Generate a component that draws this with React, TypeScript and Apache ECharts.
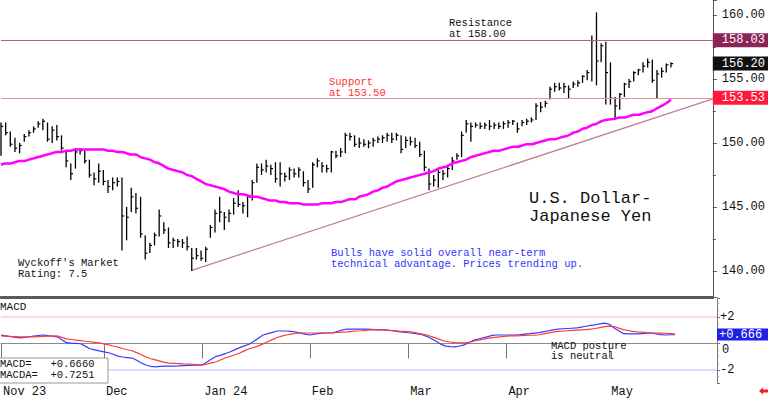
import React, { useEffect, useRef } from 'react';
import * as echarts from 'echarts';

const MONO = '"Liberation Mono", "DejaVu Sans Mono", monospace';

// ---- axis / tick labels ----
const monthLabels = ['Nov 23', 'Dec', 'Jan 24', 'Feb', 'Mar', 'Apr', 'May'];
const monthStartIndex = [0, 22, 43, 66, 87, 108, 130];
const totalSlots = 154; // trading-day slots shown on the axis (incl. empty space to the right)

// ---- daily price bars (USD/JPY) ----
const highs = [
  151.6, 151.6, 150.9, 150.4, 150.0, 150.7, 151.0, 151.3, 151.7, 151.9,
  151.6, 151.3, 151.4, 150.6, 149.4, 148.4, 149.6, 149.6, 149.4, 148.7,
  147.7, 148.4, 147.9, 147.1, 147.3, 147.3, 147.3, 145.0, 146.5, 146.1,
  145.8, 142.8, 142.2, 143.0, 144.8, 143.8, 143.4, 142.6, 142.5, 142.5,
  142.7, 141.8, 141.8, 141.6, 141.9, 143.6, 144.8, 145.8, 144.6, 144.8,
  145.7, 146.3, 145.4, 145.9, 147.1, 148.4, 148.4, 148.7, 148.3, 148.5,
  148.5, 147.7, 148.1, 148.0, 148.1, 147.8, 147.1, 148.5, 148.8, 148.5,
  148.3, 149.4, 149.4, 149.6, 150.8, 150.8, 150.6, 150.4, 150.3, 150.2,
  150.4, 150.5, 150.6, 150.8, 150.8, 150.8, 150.6, 150.5, 150.5, 150.4,
  150.1, 149.4, 148.0, 147.5, 147.9, 147.9, 148.3, 148.9, 149.2, 150.9,
  151.8, 151.6, 151.6, 151.6, 151.6, 151.8, 151.6, 151.6, 151.7, 151.8,
  151.8, 151.6, 151.8, 151.9, 152.0, 153.1, 153.2, 153.3, 154.4, 154.7,
  154.7, 154.7, 154.5, 154.8, 154.9, 155.3, 155.7, 158.4, 160.2, 157.8,
  157.9, 156.3, 153.6, 153.9, 154.7, 155.0, 155.6, 155.8, 156.3, 156.6,
  156.5, 155.7, 155.9, 156.2, 156.3,
];
const lows = [
  149.0, 150.6, 149.7, 149.3, 149.2, 150.1, 150.5, 150.8, 151.2, 151.0,
  150.1, 150.0, 150.2, 149.4, 148.1, 147.1, 148.0, 149.1, 148.4, 147.3,
  146.7, 146.9, 146.7, 146.1, 146.3, 146.6, 141.6, 142.4, 144.6, 144.5,
  142.6, 140.9, 141.4, 142.0, 142.7, 142.9, 141.8, 141.8, 141.9, 141.8,
  141.6, 140.0, 140.9, 140.8, 140.7, 142.6, 143.0, 143.8, 143.2, 143.8,
  144.4, 145.0, 144.5, 144.2, 145.5, 146.9, 147.5, 147.7, 147.5, 146.9,
  146.6, 147.0, 147.1, 147.3, 147.3, 146.6, 146.1, 146.5, 148.1, 147.7,
  147.7, 147.7, 148.8, 148.9, 149.2, 150.2, 149.7, 149.6, 149.7, 149.6,
  149.7, 150.0, 150.0, 150.1, 150.0, 150.2, 149.2, 149.6, 149.8, 149.6,
  148.9, 147.8, 146.3, 146.6, 146.5, 147.1, 147.3, 147.9, 148.7, 148.9,
  150.8, 150.1, 151.2, 151.1, 151.1, 151.0, 151.1, 151.1, 151.1, 151.2,
  151.4, 150.8, 151.3, 151.4, 151.6, 151.8, 152.4, 152.8, 153.4, 154.0,
  154.1, 153.9, 153.5, 154.3, 154.4, 154.7, 154.9, 154.8, 154.5, 156.3,
  153.0, 153.0, 151.8, 152.6, 153.6, 154.3, 154.8, 155.3, 155.5, 155.9,
  154.7, 153.5, 155.1, 155.5, 155.9,
];
const closes = [
  151.3, 150.8, 149.9, 149.6, 149.8, 150.5, 150.8, 151.1, 151.5, 151.7,
  150.3, 151.0, 150.5, 149.6, 148.6, 147.6, 149.3, 149.4, 148.6, 147.5,
  147.2, 147.8, 147.0, 146.6, 146.9, 147.0, 144.3, 144.2, 145.8, 144.9,
  142.9, 141.4, 142.0, 142.8, 144.3, 143.2, 142.2, 142.4, 142.3, 142.2,
  141.9, 141.0, 141.2, 141.0, 141.7, 143.4, 144.5, 144.6, 144.2, 144.5,
  145.3, 145.2, 145.1, 145.8, 146.9, 148.1, 147.9, 148.2, 148.0, 147.2,
  147.6, 147.4, 147.9, 147.6, 147.9, 146.9, 146.4, 148.3, 148.6, 148.2,
  148.0, 149.3, 149.0, 149.3, 150.6, 150.5, 149.9, 150.0, 149.9, 150.0,
  150.2, 150.3, 150.4, 150.6, 150.3, 150.6, 149.5, 150.2, 150.1, 149.8,
  149.1, 148.1, 146.8, 147.1, 147.7, 147.6, 148.0, 148.6, 149.0, 150.6,
  151.5, 151.3, 151.4, 151.3, 151.4, 151.3, 151.4, 151.3, 151.5, 151.6,
  151.7, 151.1, 151.6, 151.7, 151.8, 152.9, 152.8, 153.1, 154.2, 154.4,
  154.3, 154.4, 154.2, 154.6, 154.7, 155.2, 155.5, 158.0, 156.4, 157.6,
  155.5, 153.5, 152.9, 153.8, 154.6, 154.8, 155.5, 155.7, 156.0, 156.3,
  154.9, 155.4, 155.6, 156.1, 156.2,
];
const movingAverage = [
  148.3, 148.4, 148.4, 148.5, 148.6, 148.6, 148.7, 148.8, 148.9, 149.0,
  149.1, 149.2, 149.3, 149.3, 149.4, 149.4, 149.5, 149.5, 149.5, 149.5,
  149.5, 149.5, 149.5, 149.4, 149.4, 149.3, 149.3, 149.2, 149.1, 149.1,
  148.9, 148.8, 148.7, 148.5, 148.4, 148.2, 148.0, 147.9, 147.8, 147.7,
  147.5, 147.4, 147.2, 147.0, 146.8, 146.7, 146.6, 146.5, 146.4, 146.2,
  146.1, 146.0, 146.0, 145.9, 145.8, 145.8, 145.7, 145.6, 145.5, 145.5,
  145.4, 145.4, 145.3, 145.3, 145.3, 145.2, 145.2, 145.2, 145.2, 145.3,
  145.3, 145.3, 145.4, 145.4, 145.5, 145.6, 145.6, 145.8, 145.9, 146.0,
  146.2, 146.3, 146.5, 146.6, 146.8, 147.0, 147.1, 147.2, 147.3, 147.4,
  147.5, 147.6, 147.7, 147.8, 148.0, 148.1, 148.2, 148.4, 148.5, 148.6,
  148.7, 148.9, 149.0, 149.1, 149.2, 149.3, 149.4, 149.4, 149.5, 149.6,
  149.7, 149.7, 149.8, 149.9, 149.9, 150.0, 150.1, 150.2, 150.3, 150.3,
  150.4, 150.5, 150.6, 150.8, 150.9, 151.1, 151.2, 151.4, 151.5, 151.7,
  151.8, 151.85, 151.9, 152.0, 152.0, 152.1, 152.2, 152.2, 152.3, 152.4,
  152.5, 152.7, 152.9, 153.1, 153.4,
];

// ---- MACD panel ----
const macdLine = [
  0.63, 0.58, 0.52, 0.47, 0.42, 0.46, 0.51, 0.56, 0.6, 0.64,
  0.59, 0.55, 0.5, 0.28, 0.06, 0.03, 0.01, -0.02, -0.2, -0.4,
  -0.48, -0.56, -0.63, -0.7, -0.81, -0.95, -1.02, -1.06, -1.1, -1.27,
  -1.48, -1.62, -1.72, -1.76, -1.72, -1.7, -1.7, -1.7, -1.69, -1.67,
  -1.66, -1.64, -1.63, -1.62, -1.4, -1.17, -0.97, -0.88, -0.76, -0.62,
  -0.46, -0.31, -0.18, -0.06, 0.15, 0.4, 0.64, 0.74, 0.84, 0.94,
  0.94, 0.94, 0.92, 0.85, 0.78, 0.71, 0.64, 0.7, 0.76, 0.79,
  0.79, 0.8, 0.92, 1.03, 1.09, 1.09, 1.09, 1.09, 1.08, 1.07,
  1.05, 1.03, 1.02, 0.98, 0.94, 0.9, 0.86, 0.81, 0.77, 0.72,
  0.66, 0.54, 0.36, 0.17, -0.05, -0.2, -0.23, -0.25, -0.19, -0.11,
  0.07, 0.25, 0.34, 0.43, 0.52, 0.61, 0.64, 0.64, 0.64, 0.64,
  0.64, 0.67, 0.71, 0.74, 0.78, 0.82, 0.89, 0.96, 1.03, 1.09,
  1.11, 1.13, 1.15, 1.17, 1.24, 1.3, 1.36, 1.41, 1.48, 1.54,
  1.45, 1.17, 0.96, 0.74, 0.72, 0.72, 0.72, 0.75, 0.77, 0.79,
  0.73, 0.67, 0.64, 0.66, 0.67,
];
const macdSignal = [
  0.57, 0.55, 0.53, 0.52, 0.5, 0.5, 0.5, 0.5, 0.52, 0.53,
  0.55, 0.56, 0.57, 0.46, 0.35, 0.3, 0.25, 0.21, 0.17, 0.13,
  0.09, 0.05, -0.03, -0.11, -0.19, -0.28, -0.38, -0.47, -0.55, -0.69,
  -0.85, -1.02, -1.15, -1.24, -1.33, -1.42, -1.48, -1.5, -1.52, -1.54,
  -1.55, -1.57, -1.59, -1.62, -1.55, -1.46, -1.38, -1.23, -1.08, -0.96,
  -0.85, -0.72, -0.56, -0.4, -0.3, -0.18, -0.03, 0.13, 0.29, 0.45,
  0.56, 0.64, 0.71, 0.77, 0.79, 0.79, 0.79, 0.79, 0.79, 0.8,
  0.81, 0.82, 0.84, 0.86, 0.88, 0.91, 0.94, 0.96, 0.99, 1.02,
  1.02, 1.02, 1.02, 1.0, 0.97, 0.94, 0.92, 0.89, 0.85, 0.78,
  0.71, 0.64, 0.52, 0.4, 0.27, 0.17, 0.11, 0.06, 0.04, 0.04,
  0.08, 0.17, 0.25, 0.33, 0.39, 0.44, 0.48, 0.52, 0.55, 0.57,
  0.58, 0.59, 0.61, 0.62, 0.63, 0.66, 0.73, 0.8, 0.86, 0.91,
  0.93, 0.96, 0.99, 1.01, 1.03, 1.05, 1.08, 1.13, 1.2, 1.27,
  1.31, 1.28, 1.16, 1.04, 0.98, 0.92, 0.87, 0.85, 0.82, 0.79,
  0.79, 0.78, 0.77, 0.75, 0.73,
];

// ---- levels ----
const resistanceLevel = 158.03;
const supportLevel = 153.53;
const lastClose = 156.2;
const lastMacd = 0.666;
const trendIndex = [41, 153];
const trendValue = [140.05, 153.45];
const macdBands = [2, -2];

export default function App() {
  const ref = useRef<HTMLDivElement>(null);

  useEffect(() => {
    if (!ref.current) return;
    const chart = echarts.init(ref.current, undefined, { renderer: 'svg' });
    const categories = Array.from({ length: totalSlots }, (_, i) => String(i));
    const barData = highs.map((h, i) => [i, h, lows[i], closes[i]]);
    const isMonth = (i: number) => monthStartIndex.includes(i);
    const clear = 'rgba(0,0,0,0)';

    const levelLabel = (bg: string, text: string) => ({
      show: true,
      position: 'end',
      distance: 0,
      formatter: text,
      color: '#fff',
      backgroundColor: bg,
      padding: [1, 12, 0, 9],
      lineHeight: 13,
      fontSize: 12,
      fontFamily: MONO,
      opacity: 1,
    });

    const txt = (x: number, y: number, text: string, size: number, lh: number, fill: string) => ({
      type: 'text',
      x,
      y,
      z: 20,
      style: {
        text,
        fill,
        font: `${size}px ${MONO}`,
        lineHeight: lh,
        textAlign: 'left',
        textVerticalAlign: 'top',
        align: 'left',
        verticalAlign: 'top',
      },
    });

    const option: any = {
      animation: false,
      backgroundColor: '#fff',
      textStyle: { fontFamily: MONO },
      grid: [
        { left: 1, right: 51, top: 0, height: 297 },
        { left: 1, right: 51, top: 298, height: 85 },
      ],
      xAxis: [
        {
          type: 'category',
          gridIndex: 0,
          data: categories,
          boundaryGap: false,
          axisLine: { show: true, lineStyle: { color: '#5a5a5a', width: 3 } },
          axisTick: { show: false },
          axisLabel: { show: false },
          splitLine: { show: false },
        },
        {
          type: 'category',
          gridIndex: 1,
          data: categories,
          boundaryGap: false,
          axisLine: { show: true, lineStyle: { color: '#8a8a8a', width: 1 } },
          axisTick: { show: true, interval: (i: number) => isMonth(i), length: 15, lineStyle: { color: '#777' } },
          axisLabel: {
            show: true,
            interval: (i: number) => isMonth(i),
            formatter: (_v: string, i: number) => {
              const k = monthStartIndex.indexOf(i);
              return k >= 0 ? monthLabels[k] : '';
            },
            align: 'left',
            padding: [0, 0, 0, 2],
            margin: 3,
            fontSize: 12,
            color: '#111',
            fontFamily: MONO,
          },
          splitLine: { show: false },
        },
      ],
      yAxis: [
        {
          type: 'value',
          gridIndex: 0,
          position: 'right',
          min: 137.97,
          max: 161.17,
          splitNumber: 5,
          axisLine: { show: true, lineStyle: { color: '#555', width: 1 } },
          axisTick: { show: true, length: 4, lineStyle: { color: '#555' } },
          minorTick: { show: true, splitNumber: 2, length: 3, lineStyle: { color: '#555' } },
          splitLine: { show: false },
          axisLabel: {
            margin: 9,
            fontSize: 12,
            color: '#111',
            fontFamily: MONO,
            showMinLabel: false,
            showMaxLabel: false,
            formatter: (v: number) => (Math.abs(v % 5) < 1e-6 ? v.toFixed(2) : ''),
          },
        },
        {
          type: 'value',
          gridIndex: 1,
          position: 'right',
          min: -2.98,
          max: 3.43,
          splitNumber: 3,
          axisLine: { show: true, lineStyle: { color: '#777', width: 1 } },
          axisTick: { show: true, length: 3, lineStyle: { color: '#777' } },
          minorTick: { show: true, splitNumber: 4, length: 2, lineStyle: { color: '#999' } },
          splitLine: { show: false },
          axisLabel: {
            margin: 3,
            fontSize: 12,
            color: '#111',
            fontFamily: MONO,
            showMinLabel: false,
            showMaxLabel: false,
            formatter: (v: number) => {
              if (Math.abs(v % 2) > 1e-6) return '';
              if (Math.abs(v) < 1e-9) return '{z|0}';
              return v > 0 ? '+' + v : String(v);
            },
            rich: {
              z: { padding: [13, 0, 0, 2], fontSize: 12, fontFamily: MONO, color: '#111' },
            },
          },
        },
      ],
      series: [
        {
          type: 'custom',
          name: 'bars',
          xAxisIndex: 0,
          yAxisIndex: 0,
          data: barData,
          encode: { x: 0, y: [1, 2, 3] },
          z: 3,
          renderItem: (_p: any, api: any) => {
            const i = api.value(0);
            const hi = api.coord([i, api.value(1)]);
            const lo = api.coord([i, api.value(2)]);
            const cl = api.coord([i, api.value(3)]);
            return {
              type: 'group',
              children: [
                {
                  type: 'line',
                  shape: { x1: hi[0], y1: hi[1], x2: lo[0], y2: lo[1] },
                  style: { stroke: '#000', lineWidth: 1.3 },
                },
                {
                  type: 'line',
                  shape: { x1: cl[0], y1: cl[1], x2: cl[0] + 2.2, y2: cl[1] },
                  style: { stroke: '#000', lineWidth: 1.2 },
                },
              ],
            };
          },
        },
        {
          type: 'line',
          name: 'MA',
          xAxisIndex: 0,
          yAxisIndex: 0,
          data: movingAverage,
          showSymbol: false,
          smooth: 0.3,
          z: 4,
          lineStyle: { color: '#ff00ff', width: 2.5 },
          markLine: {
            silent: true,
            symbol: ['none', 'none'],
            data: [
              {
                yAxis: resistanceLevel,
                lineStyle: { color: '#b06282', width: 1, type: 'solid' },
                label: levelLabel('#8c2457', resistanceLevel.toFixed(2)),
              },
              {
                yAxis: supportLevel,
                lineStyle: { color: '#f58a8a', width: 1, type: 'solid' },
                label: levelLabel('#ff1a3c', supportLevel.toFixed(2)),
              },
              {
                yAxis: lastClose,
                lineStyle: { color: clear, width: 1, type: 'solid' },
                label: levelLabel('#111111', lastClose.toFixed(2)),
              },
            ],
          },
        },
        {
          type: 'line',
          name: 'trend',
          xAxisIndex: 0,
          yAxisIndex: 0,
          data: trendIndex.map((ix, k) => [ix, trendValue[k]]),
          showSymbol: false,
          z: 2,
          lineStyle: { color: '#c27d96', width: 1.2 },
        },
        {
          type: 'line',
          name: 'MACD',
          xAxisIndex: 1,
          yAxisIndex: 1,
          data: macdLine,
          showSymbol: false,
          z: 3,
          lineStyle: { color: '#3a3aff', width: 1.2 },
          markLine: {
            silent: true,
            symbol: ['none', 'none'],
            data: [
              { yAxis: macdBands[0], lineStyle: { color: '#ffcccc', width: 1.5, type: 'solid' }, label: { show: false } },
              { yAxis: macdBands[1], lineStyle: { color: '#ccccff', width: 1.5, type: 'solid' }, label: { show: false } },
              {
                yAxis: lastMacd,
                lineStyle: { color: clear, width: 1, type: 'solid' },
                label: {
                  show: true,
                  position: 'end',
                  distance: 0,
                  formatter: '+' + lastMacd.toFixed(3),
                  color: '#fff',
                  backgroundColor: '#2020e6',
                  padding: [0, 10, 0, 2],
                  lineHeight: 12,
                  fontSize: 12,
                  fontFamily: MONO,
                },
              },
            ],
          },
        },
        {
          type: 'line',
          name: 'MACDA',
          xAxisIndex: 1,
          yAxisIndex: 1,
          data: macdSignal,
          showSymbol: false,
          z: 4,
          lineStyle: { color: '#ff3a3a', width: 1.2 },
        },
      ],
      graphic: [
        txt(449, 17, 'Resistance\nat 158.00', 10.5, 11, '#111'),
        txt(329, 77, 'Support\nat 153.50', 10.5, 10.5, '#ff3333'),
        txt(529, 189, 'U.S. Dollar-\nJapanese Yen', 17, 18, '#111'),
        txt(18, 257, "Wyckoff's Market\nRating: 7.5", 10.5, 11, '#111'),
        txt(331, 247.5, 'Bulls have solid overall near-term\ntechnical advantage. Prices trending up.', 10.5, 11, '#3333ff'),
        txt(0, 301, 'MACD', 11, 12, '#111'),
        txt(551, 340.5, 'MACD posture\nis neutral', 10.5, 10.5, '#111'),
        {
          type: 'rect',
          z: 15,
          shape: { x: -1, y: 358, width: 109, height: 25 },
          style: { fill: '#fff', stroke: '#999', lineWidth: 1 },
        },
        txt(0, 358, 'MACD=   +0.6660\nMACDA=  +0.7251', 10.5, 11.5, '#111'),
        {
          type: 'polygon',
          z: 20,
          shape: {
            points: [
              [759, 391],
              [763, 387.5],
              [763, 389.5],
              [768, 389.5],
              [768, 392.5],
              [763, 392.5],
              [763, 394.5],
            ],
          },
          style: { fill: '#ff1a1a' },
        },
      ],
    };

    chart.setOption(option);
    return () => chart.dispose();
  }, []);

  return (
    <div
      ref={ref}
      style={{ position: 'fixed', left: 0, top: 0, width: 768, height: 398, background: '#fff' }}
    />
  );
}
